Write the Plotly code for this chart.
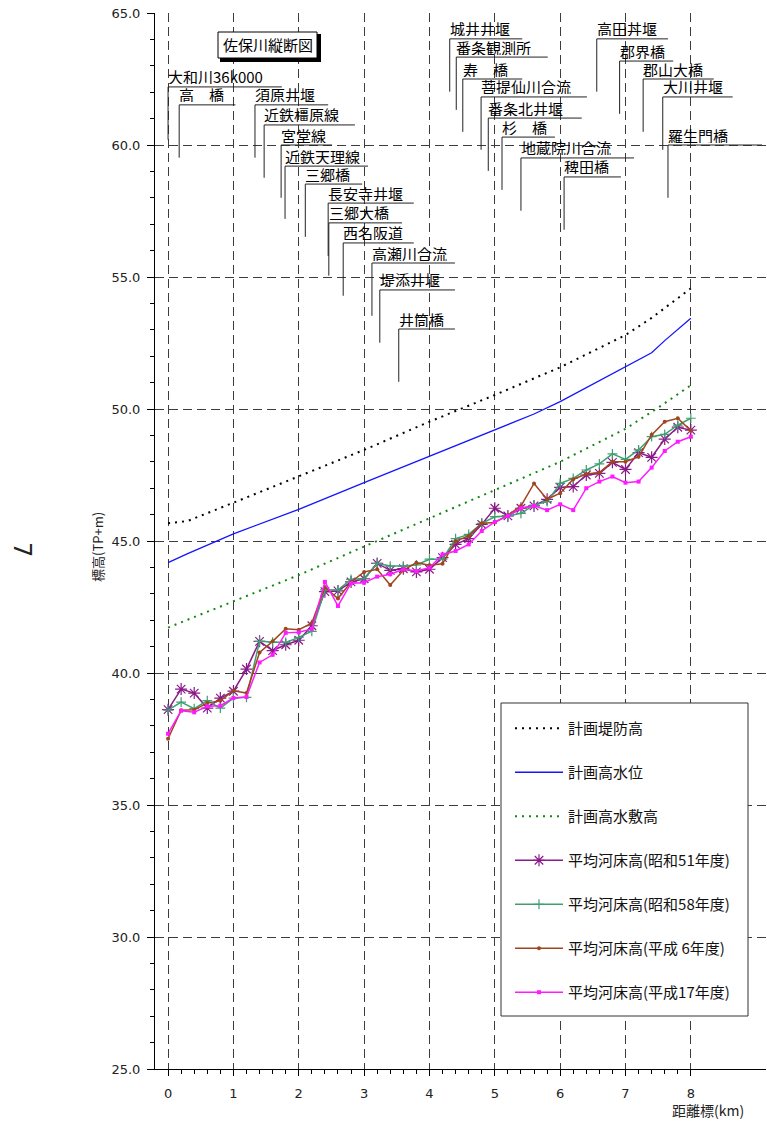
import plotly.graph_objects as go

# ---------------- data ----------------
# distance marker (km) of the cross sections
km = [0.0, 0.2, 0.4, 0.6, 0.8, 1.0, 1.2, 1.4, 1.6, 1.8,
      2.0, 2.2, 2.4, 2.6, 2.8, 3.0, 3.2, 3.4, 3.6, 3.8,
      4.0, 4.2, 4.4, 4.6, 4.8, 5.0, 5.2, 5.4, 5.6, 5.8,
      6.0, 6.2, 6.4, 6.6, 6.8, 7.0, 7.2, 7.4, 7.6, 7.8, 8.0]

# mean riverbed elevation (TP+m)
bed_s51 = [38.61, 39.39, 39.24, 38.67, 39.05, 39.31, 40.15, 41.20, 40.85, 41.07,
           41.24, 41.79, 43.08, 43.11, 43.45, 43.57, 44.15, 43.89, 43.95, 43.83,
           43.93, 44.37, 44.87, 45.09, 45.63, 46.24, 45.95, 46.24, 46.33, 46.58,
           47.03, 47.06, 47.50, 47.56, 47.98, 47.71, 48.35, 48.17, 48.86, 49.31, 49.20]
bed_s58 = [38.59, 38.90, 38.65, 38.95, 38.67, 39.05, 39.08, 41.20, 41.17, 41.16,
           41.35, 41.58, 43.15, 43.14, 43.55, 43.57, 44.15, 44.05, 44.05, 44.09,
           44.31, 44.31, 45.09, 45.25, 45.67, 45.92, 45.95, 46.05, 46.36, 46.49,
           47.18, 47.37, 47.69, 47.92, 48.30, 48.09, 48.45, 48.95, 49.04, 49.39, 49.65]
bed_h06 = [37.51, 38.59, 38.61, 38.86, 38.95, 39.33, 39.24, 40.78, 41.20, 41.68,
           41.64, 41.89, 43.25, 42.82, 43.45, 43.83, 43.93, 43.33, 43.89, 44.18,
           44.08, 44.14, 45.00, 45.19, 45.67, 45.70, 45.98, 46.33, 47.18, 46.58,
           46.81, 47.34, 47.54, 47.59, 48.00, 48.00, 48.19, 49.02, 49.52, 49.65, 49.18]
bed_h17 = [37.70, 38.57, 38.51, 38.74, 38.76, 39.05, 39.09, 40.40, 40.69, 41.52,
           41.54, 41.67, 43.45, 42.54, 43.40, 43.42, 43.65, 43.74, 43.93, 43.86,
           43.99, 44.49, 44.62, 44.87, 45.38, 45.72, 45.95, 46.24, 46.33, 46.17,
           46.39, 46.17, 47.00, 47.25, 47.44, 47.21, 47.25, 47.78, 48.41, 48.76, 48.95]

# planned levee crown height
levee_km = [0.0, 0.3, 1.0, 2.0, 3.0, 4.0, 5.0, 6.0, 7.0, 7.4, 8.0]
levee = [45.67, 45.76, 46.45, 47.44, 48.45, 49.52, 50.53, 51.58, 52.80, 53.45, 54.57]

# planned high water level
hwl_km = [0.0, 0.3, 1.0, 2.0, 3.0, 4.0, 5.0, 5.6, 6.0, 7.0, 7.4, 7.6, 8.0]
hwl = [44.18, 44.52, 45.27, 46.20, 47.21, 48.22, 49.20, 49.81, 50.28, 51.58, 52.13, 52.59, 53.44]

# planned high-water channel (terrace) height
terrace_km = [0.0, 1.0, 2.0, 3.0, 4.0, 5.0, 6.0, 7.0, 7.5, 8.0]
terrace = [41.72, 42.70, 43.71, 44.79, 45.86, 46.93, 48.00, 49.25, 50.05, 50.90]

# landmarks along the river
landmark_names = ["大和川36k000", "高　橋", "須原井堰", "近鉄橿原線", "宮堂線",
                  "近鉄天理線", "三郷橋", "長安寺井堰", "三郷大橋", "西名阪道",
                  "高瀬川合流", "堤添井堰", "井筒橋",
                  "城井井堰", "番条観測所", "寿　橋", "菩提仙川合流", "番条北井堰",
                  "杉　橋", "地蔵院川合流", "稗田橋",
                  "高田丼堰", "郡界橋", "郡山大橋", "大川井堰", "羅生門橋"]
landmark_km = [0.00, 0.17, 1.33, 1.47, 1.73, 1.79, 2.10, 2.45, 2.46, 2.68,
               3.12, 3.24, 3.53,
               4.31, 4.41, 4.51, 4.79, 4.90, 5.11, 5.40, 6.06,
               6.56, 6.91, 7.27, 7.57, 7.65]

x_ticks = [0, 1, 2, 3, 4, 5, 6, 7, 8]
x_ticktext = ["0", "1", "2", "3", "4", "5", "6", "7", "8"]
y_ticks = [25, 30, 35, 40, 45, 50, 55, 60, 65]
y_ticktext = ["25.0", "30.0", "35.0", "40.0", "45.0", "50.0", "55.0", "60.0", "65.0"]

# ---------------- label layout ----------------
# elevation of each label's underline and where the underline stops (km)
label_line_y = [62.20, 61.52, 61.52, 60.76, 60.00, 59.20, 58.52, 57.80, 57.05, 56.29,
                55.53, 54.51, 53.03,
                64.02, 63.33, 62.50, 61.82, 61.02, 60.30, 59.51, 58.79,
                64.02, 63.18, 62.50, 61.82, 60.00]
label_line_end = [1.74, 1.03, 2.45, 2.86, 2.51, 3.06, 2.97, 3.76, 3.58, 3.76,
                  4.39, 4.39, 4.39,
                  5.42, 5.81, 5.42, 6.41, 6.33, 5.92, 7.13, 6.93,
                  7.65, 7.73, 8.35, 8.64, 9.09]
LEADER_DROP = 2.0

W, H = 767, 1122
ML, MR, MT, MB = 155, 1, 13, 53
PW, PH = W - ML - MR, H - MT - MB

JP = "Noto Sans CJK JP"
NUM = "DejaVu Sans"


def px_x(p):
    return (p - ML) / PW


def px_y(p):
    return (H - MB - p) / PH


fig = go.Figure()

fig.add_trace(go.Scatter(
    x=levee_km, y=levee, mode="lines", name="計画堤防高", legendgroup="a",
    line=dict(color="black", width=2, dash="2px,5px")))
fig.add_trace(go.Scatter(
    x=hwl_km, y=hwl, mode="lines", name="計画高水位", legendgroup="b",
    line=dict(color="#1414ff", width=1.3)))
fig.add_trace(go.Scatter(
    x=terrace_km, y=terrace, mode="lines", name="計画高水敷高", legendgroup="c",
    line=dict(color="#118811", width=2, dash="2px,5px")))

fig.add_trace(go.Scatter(
    x=km, y=bed_s51, mode="lines+markers", name="平均河床高(昭和51年度)", legendgroup="d",
    line=dict(color="#8a1a8a", width=1.5),
    marker=dict(symbol="asterisk-open", size=10, color="#8a1a8a",
                line=dict(color="#8a1a8a", width=1.2))))
fig.add_trace(go.Scatter(
    x=km, y=bed_s58, mode="lines+markers", name="平均河床高(昭和58年度)", legendgroup="e",
    line=dict(color="#3f9f72", width=1.5),
    marker=dict(symbol="cross-thin-open", size=7, color="#3f9f72",
                line=dict(color="#3f9f72", width=1.2))))
fig.add_trace(go.Scatter(
    x=km, y=bed_h06, mode="lines+markers", name="平均河床高(平成 6年度)", legendgroup="f",
    line=dict(color="#a0461e", width=1.5),
    marker=dict(symbol="circle", size=4, color="#a0461e")))
fig.add_trace(go.Scatter(
    x=km, y=bed_h17, mode="lines+markers", name="平均河床高(平成17年度)", legendgroup="g",
    line=dict(color="#ff1aff", width=1.5),
    marker=dict(symbol="square", size=4, color="#ff1aff")))

shapes = []
annotations = []

# landmark labels: text, underline and leader line
for name, k, ly, le in zip(landmark_names, landmark_km, label_line_y, label_line_end):
    shapes.append(dict(type="line", xref="x", yref="y", x0=k, x1=le, y0=ly, y1=ly,
                       line=dict(color="#222", width=1), layer="above"))
    shapes.append(dict(type="line", xref="x", yref="y", x0=k, x1=k, y0=ly, y1=ly - LEADER_DROP,
                       line=dict(color="#222", width=1), layer="above"))
    annotations.append(dict(x=k, y=ly, xref="x", yref="y", text=name, showarrow=False,
                            xanchor="left", yanchor="middle", xshift=-2, yshift=10,
                            height=15, valign="middle",
                            font=dict(family=JP, size=15, color="black")))

# title box with drop shadow
shapes.append(dict(type="rect", xref="paper", yref="paper",
                   x0=px_x(220), x1=px_x(321), y0=px_y(62), y1=px_y(34),
                   fillcolor="black", line=dict(width=0), layer="above"))
shapes.append(dict(type="rect", xref="paper", yref="paper",
                   x0=px_x(218), x1=px_x(317), y0=px_y(58), y1=px_y(32),
                   fillcolor="white", line=dict(color="black", width=1), layer="above"))
annotations.append(dict(x=px_x(267.5), y=px_y(45), xref="paper", yref="paper",
                        text="佐保川縦断図", showarrow=False, xanchor="center", yanchor="middle",
                        font=dict(family=JP, size=15, color="black")))

# legend frame
shapes.append(dict(type="rect", xref="paper", yref="paper",
                   x0=px_x(501), x1=px_x(748), y0=px_y(1016), y1=px_y(703),
                   fillcolor="white", line=dict(color="#333", width=1), layer="above"))

# axis titles
annotations.append(dict(x=px_x(98), y=px_y(547), xref="paper", yref="paper",
                        text="標高(TP+m)", showarrow=False, textangle=-90,
                        xanchor="center", yanchor="middle",
                        font=dict(family=JP, size=13, color="#222")))
annotations.append(dict(x=px_x(708), y=px_y(1110), xref="paper", yref="paper",
                        text="距離標(km)", showarrow=False, xanchor="center", yanchor="middle",
                        font=dict(family=JP, size=14, color="#222")))
annotations.append(dict(x=px_x(22), y=px_y(549), xref="paper", yref="paper",
                        text="7", showarrow=False, textangle=90,
                        xanchor="center", yanchor="middle",
                        font=dict(family=NUM, size=24, color="#222")))

GRID = "#3c3c3c"
minor_x = [i / 5 for i in range(41) if i % 5 != 0]

fig.update_layout(
    width=W, height=H,
    margin=dict(l=ML, r=MR, t=MT, b=MB, pad=0),
    paper_bgcolor="white", plot_bgcolor="white",
    showlegend=True,
    legend=dict(x=px_x(510), y=px_y(712), xanchor="left", yanchor="top",
                bgcolor="rgba(0,0,0,0)", borderwidth=0,
                font=dict(family=JP, size=15, color="#111"),
                tracegroupgap=21.5, itemwidth=48),
    xaxis=dict(range=[-0.2, 9.15], tickmode="array", tickvals=x_ticks, ticktext=x_ticktext,
               ticks="outside", ticklen=6, tickcolor="black", tickwidth=1,
               showline=True, linecolor="black", linewidth=1,
               showgrid=True, gridcolor=GRID, gridwidth=1, griddash="9px,5px",
               zeroline=False, ticklabelstandoff=6,
               tickfont=dict(family=NUM, size=13, color="#222"),
               minor=dict(tickmode="array", tickvals=minor_x, ticks="outside",
                          ticklen=4, tickcolor="black", showgrid=False)),
    yaxis=dict(range=[25, 65], tickmode="array", tickvals=y_ticks, ticktext=y_ticktext,
               ticks="outside", ticklen=7, tickcolor="black", tickwidth=1,
               showline=True, linecolor="black", linewidth=1,
               showgrid=True, gridcolor=GRID, gridwidth=1, griddash="9px,5px",
               zeroline=False, ticklabelstandoff=4,
               tickfont=dict(family=NUM, size=13, color="#222"),
               minor=dict(dtick=1, tick0=25, ticks="outside", ticklen=4,
                          tickcolor="black", showgrid=False)),
    yaxis2=dict(range=[25, 65], overlaying="y", side="right", tickmode="array",
                tickvals=y_ticks, ticks="inside", ticklen=7, tickcolor="black",
                showticklabels=False, showline=True, linecolor="black", linewidth=1,
                showgrid=False, zeroline=False),
    shapes=shapes,
    annotations=annotations,
)

fig.write_html("out.html")
